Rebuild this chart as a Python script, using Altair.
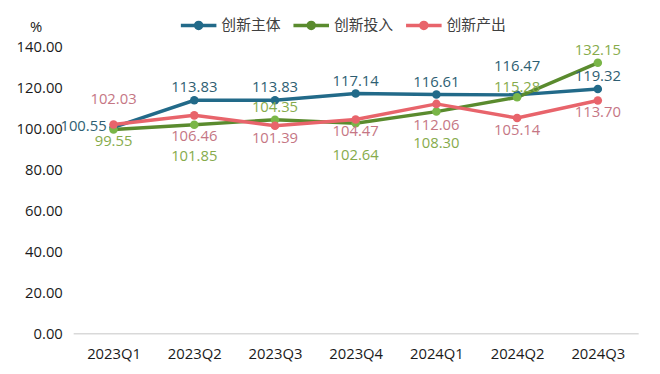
import altair as alt
import pandas as pd

quarters = ["2023Q1", "2023Q2", "2023Q3", "2023Q4", "2024Q1", "2024Q2", "2024Q3"]
series_names = ["创新主体", "创新投入", "创新产出"]

zhuti = [100.55, 113.83, 113.83, 117.14, 116.61, 116.47, 119.32]
touru = [99.55, 101.85, 104.35, 102.64, 108.30, 115.28, 132.15]
chanchu = [102.03, 106.46, 101.39, 104.47, 112.06, 105.14, 113.70]

# label placement relative to the point
zhuti_pos = ["left", "above", "above", "above", "above", "above3", "above"]
touru_pos = ["below", "below3", "above", "below3", "below3", "above_low", "above"]
chanchu_pos = ["above2", "below2", "below", "below", "below2", "below", "below"]

line_colors = ["#226A89", "#5A8B2E", "#E8646B"]
marker_colors = ["#226A89", "#7AB648", "#E8646B"]
label_colors = ["#2E5E72", "#86AB4B", "#C57684"]

FONT = "Open Sans, Noto Sans CJK SC, sans-serif"

rows = []
for si, (name, vals, pos) in enumerate(zip(series_names, [zhuti, touru, chanchu],
                                           [zhuti_pos, touru_pos, chanchu_pos])):
    for q, v, p in zip(quarters, vals, pos):
        rows.append({"quarter": q, "series": name, "value": v, "pos": p,
                     "label": f"{v:.2f}", "mc": marker_colors[si],
                     "lc": label_colors[si], "order": si})
df = pd.DataFrame(rows)

x = alt.X("quarter:N", sort=quarters, title=None,
          axis=alt.Axis(labelAngle=0, ticks=False, grid=False, domainColor="#D9D9D9",
                        domainWidth=1.5, labelFontSize=15, labelColor="#1a1a1a",
                        labelFont=FONT, labelPadding=14))
y = alt.Y("value:Q", scale=alt.Scale(domain=[0, 140], nice=False),
          axis=alt.Axis(values=[0, 20, 40, 60, 80, 100, 120, 140], format=".2f",
                        ticks=False, grid=False, domain=False, labelFontSize=15,
                        labelColor="#1a1a1a", labelFont=FONT, labelPadding=11,
                        title="%", titleAngle=0, titleX=-38, titleY=-20,
                        titleAlign="center", titleBaseline="middle",
                        titleFontSize=15, titleFontWeight="normal",
                        titleColor="#1a1a1a", titleFont=FONT))

legend_path = ("M-1,0L1,0M-0.17,0A0.17,0.17,0,1,1,0.17,0"
               "A0.17,0.17,0,1,1,-0.17,0Z")

base = alt.Chart(df)

lines = base.mark_line(strokeWidth=3.5).encode(
    x=x, y=y,
    color=alt.Color("series:N", sort=series_names,
                    scale=alt.Scale(domain=series_names, range=line_colors),
                    legend=alt.Legend(orient="none", legendX=107, legendY=-42,
                                      direction="horizontal", title=None,
                                      symbolType=legend_path, symbolSize=1296,
                                      symbolStrokeWidth=3.5, labelFontSize=15,
                                      labelColor="#404040", labelFont=FONT,
                                      labelOffset=3, columnPadding=5)),
    order="order:Q",
)

points = base.mark_circle(size=75, opacity=1).encode(
    x=x, y=y, color=alt.Color("mc:N", scale=None))

placements = {
    "above": dict(dy=-13),
    "above_low": dict(dy=-10),
    "above2": dict(dy=-26),
    "above3": dict(dy=-29),
    "below": dict(dy=12),
    "below2": dict(dy=21),
    "below3": dict(dy=32),
    "left": dict(dx=-7, dy=-1, align="right"),
}

texts = []
for p, kw in placements.items():
    kw = dict(kw)
    align = kw.pop("align", "center")
    texts.append(
        base.transform_filter(alt.datum.pos == p)
        .mark_text(fontSize=15, font=FONT, align=align, baseline="middle", **kw)
        .encode(x=x, y=y, text="label:N", color=alt.Color("lc:N", scale=None))
    )

chart = alt.layer(lines, points, *texts).properties(
    width=572, height=290,
    autosize=alt.AutoSizeParams(type="none"),
    padding={"left": 66, "top": 37, "right": 14, "bottom": 30},
).configure_view(stroke=None)

chart.save("out.html", embed_options={"renderer": "svg", "actions": False})
